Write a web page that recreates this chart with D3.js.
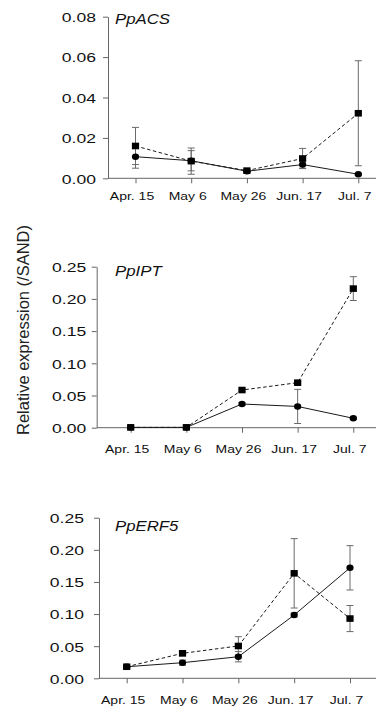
<!DOCTYPE html>
<html><head><meta charset="utf-8">
<script src="https://cdn.jsdelivr.net/npm/d3@7"></script>
<style>
html,body{margin:0;padding:0;background:#fff;}
svg{display:block;font-family:"Liberation Sans",Arial,sans-serif;}
</style></head>
<body><svg id="c" width="376" height="708"></svg>
<script>
// ---- data ----
const categories = ["Apr. 15", "May 6", "May 26", "Jun. 17", "Jul. 7"];
const genes = ["PpACS", "PpIPT", "PpERF5"];
const yMax = [0.08, 0.25, 0.25];
const yTickStep = [0.02, 0.05, 0.05];

const acsCircle    = [0.0107, 0.0087, 0.0035, 0.0068, 0.0020];
const acsCircleErr = [0.0057, 0.0050, 0.0005, 0.0018, 0.0005];
const acsSquare    = [0.0160, 0.0085, 0.0038, 0.0098, 0.0322];
const acsSquareErr = [0.0092, 0.0065, 0.0005, 0.0050, 0.0260];

const iptCircle    = [0.0005, 0.0005, 0.0368, 0.0330, 0.0146];
const iptCircleErr = [0.0000, 0.0000, 0.0020, 0.0265, 0.0020];
const iptSquare    = [0.0005, 0.0005, 0.0585, 0.0699, 0.2160];
const iptSquareErr = [0.0000, 0.0000, 0.0020, 0.0020, 0.0185];

const erfCircle    = [0.0180, 0.0243, 0.0336, 0.0985, 0.1720];
const erfCircleErr = [0.0020, 0.0040, 0.0080, 0.0030, 0.0345];
const erfSquare    = [0.0180, 0.0389, 0.0503, 0.1634, 0.0930];
const erfSquareErr = [0.0020, 0.0040, 0.0145, 0.0540, 0.0203];

const yTitle = "Relative expression (/SAND)";

// ---- layout ----
const panels = [
  {axisX:108,  x0:135.5, x1:358.3, yB:178.3, yT:16.7,  labR:12, labY:22, titleY:24,
   c:acsCircle, ce:acsCircleErr, s:acsSquare, se:acsSquareErr},
  {axisX:96.7, x0:130.7, x1:353.3, yB:427.7, yT:266.7, labR:10.5, labY:25.5, titleY:276,
   c:iptCircle, ce:iptCircleErr, s:iptSquare, se:iptSquareErr},
  {axisX:99,   x0:126.7, x1:350,   yB:678.3, yT:517.7, labR:15, labY:25.5, titleY:531,
   c:erfCircle, ce:erfCircleErr, s:erfSquare, se:erfSquareErr}
];

const svg = d3.select("#c");
const fmt = d3.format(".2f");
const axisCol = "#666", lineCol = "#1a1a1a", errCol = "#6a6a6a";

panels.forEach((p, i) => {
  const x = d3.scalePoint().domain(categories).range([p.x0, p.x1]);
  const y = d3.scaleLinear().domain([0, yMax[i]]).range([p.yB, p.yT]);
  const g = svg.append("g");

  // y axis
  const ticks = d3.range(0, yMax[i] + 1e-9, yTickStep[i]);
  const ya = g.append("g").attr("transform", `translate(${p.axisX},0)`)
    .call(d3.axisLeft(y).tickValues(ticks).tickFormat(fmt).tickSize(5).tickSizeOuter(0));
  ya.select(".domain").attr("stroke", axisCol);
  ya.selectAll(".tick line").attr("stroke", axisCol);
  ya.selectAll(".tick text").attr("x", null).attr("dy", "0.36em")
    .attr("transform", `translate(${-p.labR},0) scale(1.3,1)`)
    .attr("font-size", 13.5).attr("fill", "#111");

  // x axis
  const xa = g.append("g").attr("transform", `translate(0,${p.yB})`)
    .call(d3.axisBottom(x).tickSize(5).tickSizeOuter(0));
  xa.select(".domain").remove();
  xa.append("line").attr("x1", p.axisX).attr("x2", 376).attr("stroke", axisCol);
  xa.selectAll(".tick line").attr("stroke", axisCol);
  xa.selectAll(".tick text").attr("y", null).attr("dy", null)
    .attr("transform", `translate(-4,${p.labY}) scale(1.4,1)`)
    .attr("font-size", 10).attr("fill", "#111");

  // gene title
  g.append("text").attr("x", 0).attr("y", 0)
    .attr("transform", `translate(115,${p.titleY}) scale(1.2,1)`)
    .attr("font-size", 14).attr("font-style", "italic").attr("fill", "#111")
    .text(genes[i]);

  // error bars
  const series = [{v:p.c, e:p.ce}, {v:p.s, e:p.se}];
  series.forEach(sr => {
    sr.v.forEach((v, k) => {
      const e = sr.e[k];
      if (e <= 0) return;
      const cx = x(categories[k]);
      g.append("line").attr("x1", cx).attr("x2", cx)
        .attr("y1", y(v - e)).attr("y2", y(v + e)).attr("stroke", errCol);
      [v - e, v + e].forEach(b => {
        g.append("line").attr("x1", cx - 3.5).attr("x2", cx + 3.5)
          .attr("y1", y(b)).attr("y2", y(b)).attr("stroke", errCol);
      });
    });
  });

  const line = d3.line().x((d, k) => x(categories[k])).y(d => y(d));
  g.append("path").attr("d", line(p.c)).attr("fill", "none")
    .attr("stroke", lineCol).attr("stroke-width", 1);
  g.append("path").attr("d", line(p.s)).attr("fill", "none")
    .attr("stroke", lineCol).attr("stroke-width", 1).attr("stroke-dasharray", "3.5,2.5");

  // markers
  g.selectAll(".circ").data(p.c).enter().append("ellipse")
    .attr("cx", (d, k) => x(categories[k])).attr("cy", d => y(d))
    .attr("rx", 3.6).attr("ry", 3.2).attr("fill", "#000");
  g.selectAll(".sq").data(p.s).enter().append("rect")
    .attr("x", (d, k) => x(categories[k]) - 3.6).attr("y", d => y(d) - 3.3)
    .attr("width", 7.2).attr("height", 6.6).attr("fill", "#000");
});

// y title
svg.append("text")
  .attr("transform", "translate(29,330) rotate(-90)")
  .attr("text-anchor", "middle").attr("font-size", 16.5).attr("fill", "#222")
  .text(yTitle);
</script>
</body></html>
